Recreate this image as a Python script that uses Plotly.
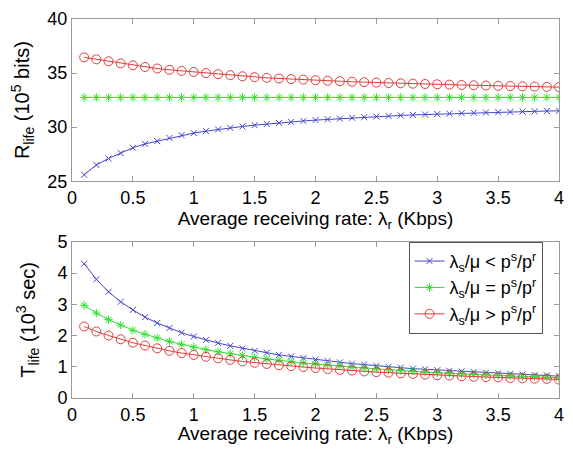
import plotly.graph_objects as go

rate = [round(0.1 * i, 1) for i in range(1, 41)]

r_less = [25.6, 26.5, 27.1, 27.6, 28.1, 28.45, 28.7, 29.0, 29.25, 29.45,
          29.63, 29.79, 29.93, 30.06, 30.18, 30.29, 30.39, 30.48, 30.57, 30.65,
          30.72, 30.79, 30.86, 30.92, 30.98, 31.03, 31.08, 31.13, 31.17, 31.21,
          31.25, 31.29, 31.32, 31.35, 31.38, 31.41, 31.44, 31.46, 31.49, 31.51]
r_equal = [32.75] * 40
r_greater = [36.45, 36.27, 36.09, 35.9, 35.72, 35.56, 35.42, 35.3, 35.2, 35.1,
             35.0, 34.9, 34.8, 34.7, 34.62, 34.56, 34.5, 34.44, 34.39, 34.34,
             34.29, 34.25, 34.2, 34.16, 34.12, 34.08, 34.05, 34.02, 33.99, 33.96,
             33.93, 33.9, 33.87, 33.85, 33.82, 33.8, 33.77, 33.75, 33.72, 33.7]

t_less = [4.30, 3.80, 3.40, 3.08, 2.82, 2.59, 2.40, 2.24, 2.09, 1.97,
          1.86, 1.76, 1.67, 1.59, 1.51, 1.45, 1.38, 1.33, 1.28, 1.23,
          1.18, 1.14, 1.10, 1.07, 1.03, 1.00, 0.97, 0.94, 0.92, 0.89,
          0.87, 0.85, 0.83, 0.81, 0.79, 0.77, 0.75, 0.73, 0.72, 0.70]
t_equal = [2.97, 2.72, 2.51, 2.33, 2.17, 2.04, 1.92, 1.81, 1.72, 1.63,
           1.55, 1.48, 1.42, 1.36, 1.30, 1.25, 1.21, 1.16, 1.12, 1.09,
           1.05, 1.02, 0.99, 0.96, 0.93, 0.90, 0.88, 0.86, 0.83, 0.81,
           0.79, 0.77, 0.76, 0.74, 0.72, 0.71, 0.69, 0.68, 0.66, 0.65]
t_greater = [2.29, 2.13, 2.00, 1.88, 1.77, 1.68, 1.59, 1.51, 1.44, 1.38,
             1.32, 1.27, 1.22, 1.17, 1.13, 1.09, 1.05, 1.02, 0.99, 0.96,
             0.93, 0.90, 0.88, 0.85, 0.83, 0.81, 0.79, 0.77, 0.75, 0.73,
             0.72, 0.70, 0.68, 0.67, 0.66, 0.64, 0.63, 0.62, 0.61, 0.59]

legend_names = ["λ<sub>s</sub>/μ &lt; p<sup>s</sup>/p<sup>r</sup>",
                "λ<sub>s</sub>/μ = p<sup>s</sup>/p<sup>r</sup>",
                "λ<sub>s</sub>/μ &gt; p<sup>s</sup>/p<sup>r</sup>"]
x_title = "Average receiving rate: λ<sub>r</sub> (Kbps)"
y_title_top = "R<sub>life</sub> (10<sup>5</sup> bits)"
y_title_bottom = "T<sub>life</sub> (10<sup>3</sup> sec)"

BLUE = "rgb(70,70,205)"
GREEN = "rgb(50,225,50)"
RED = "rgb(225,60,60)"
styles = [
    dict(color=BLUE, symbol="x-thin-open", size=6),
    dict(color=GREEN, symbol="asterisk-open", size=7),
    dict(color=RED, symbol="circle-open", size=9),
]

fig = go.Figure()
top_series = [r_less, r_equal, r_greater]
bottom_series = [t_less, t_equal, t_greater]
for name, ys, st in zip(legend_names, top_series, styles):
    fig.add_trace(go.Scatter(
        x=rate, y=ys, mode="lines+markers", name=name, showlegend=False,
        line=dict(color=st["color"], width=1),
        marker=dict(symbol=st["symbol"], size=st["size"], color=st["color"],
                    line=dict(color=st["color"], width=1)),
        xaxis="x", yaxis="y"))
for name, ys, st in zip(legend_names, bottom_series, styles):
    fig.add_trace(go.Scatter(
        x=rate, y=ys, mode="lines+markers", name=name, showlegend=True,
        line=dict(color=st["color"], width=1),
        marker=dict(symbol=st["symbol"], size=st["size"], color=st["color"],
                    line=dict(color=st["color"], width=1)),
        xaxis="x2", yaxis="y2"))

FONT = "Arial, Liberation Sans, sans-serif"
AX = dict(showgrid=False, zeroline=False, showline=True, linecolor="#999999",
          linewidth=1, mirror="ticks", ticks="inside", ticklen=5,
          tickcolor="#999999", ticklabeloverflow="allow",
          tickfont=dict(size=18, color="black", family=FONT))

fig.update_layout(
    width=557, height=439,
    margin=dict(l=64, r=1, t=2, b=49),
    paper_bgcolor="white", plot_bgcolor="white",
    font=dict(family=FONT, color="black", size=18),
    xaxis=dict(AX, domain=[0, 1], range=[0, 4], dtick=0.5, anchor="y",
               title=dict(text=x_title, font=dict(size=19), standoff=4)),
    yaxis=dict(AX, domain=[0.572, 1], range=[25, 40], dtick=5, anchor="x",
               title=dict(text=y_title_top, font=dict(size=20), standoff=16)),
    xaxis2=dict(AX, domain=[0, 1], range=[0, 4], dtick=0.5, anchor="y2",
                title=dict(text=x_title, font=dict(size=19), standoff=4)),
    yaxis2=dict(AX, domain=[0, 0.412], range=[0, 5], dtick=1, anchor="x2",
                title=dict(text=y_title_bottom, font=dict(size=20), standoff=16)),
    legend=dict(x=0.691, y=0.412, xanchor="left", yanchor="top",
                bgcolor="white", bordercolor="#555555", borderwidth=1,
                font=dict(size=18, family=FONT), tracegroupgap=0,
                itemwidth=30),
)

fig.write_html("out.html")
